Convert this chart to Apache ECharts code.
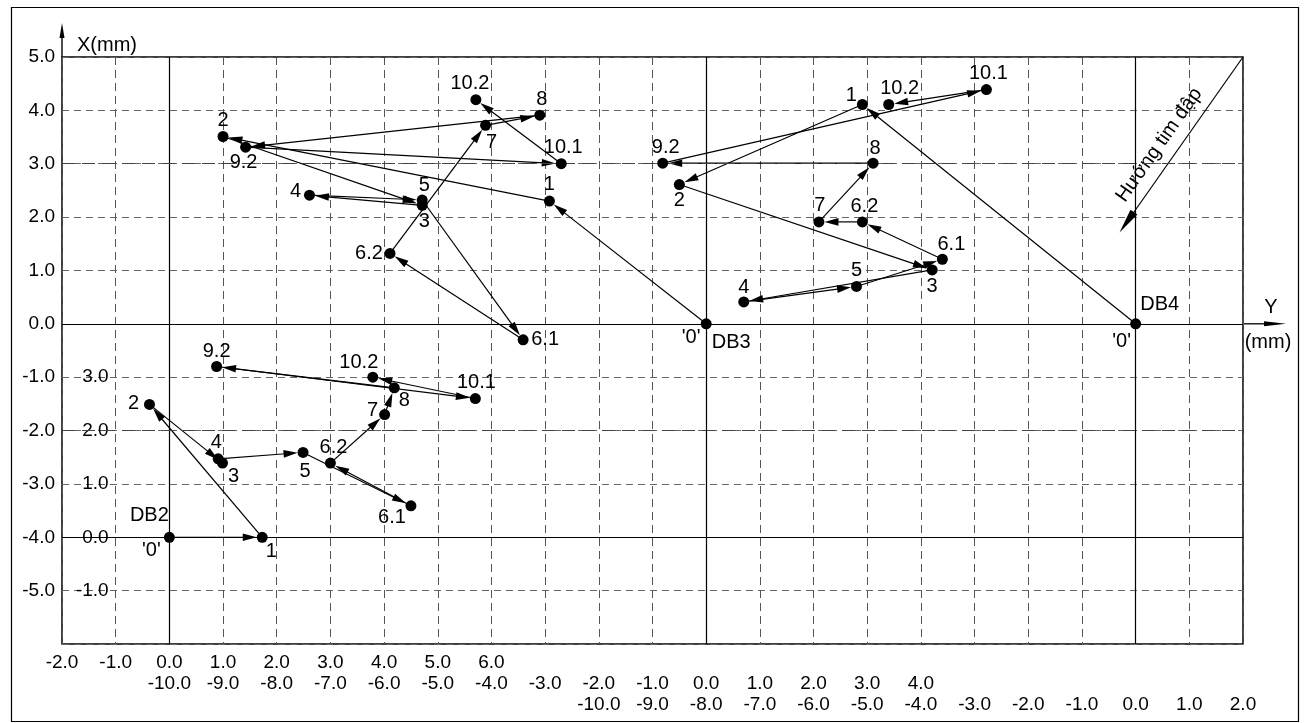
<!DOCTYPE html>
<html>
<head>
<meta charset="utf-8">
<script src="https://cdn.jsdelivr.net/npm/echarts@6/dist/echarts.min.js"></script>
<style>
  html, body { margin: 0; padding: 0; background: #fff; }
  #chart { width: 1307px; height: 723px; }
</style>
</head>
<body>
<div id="chart"></div>
<script>
// Measurement steps, in order of observation
const steps = ['1', '2', '3', '4', '5', '6.1', '6.2', '7', '8', '9.2', '10.1', '10.2'];

// DB2 displacement (mm): horizontal Y and vertical X, relative to its '0'
const db2Y = [1.73, -0.37, 0.99, 0.91, 2.49, 4.50, 3.00, 4.01, 4.19, 0.88, 5.70, 3.79];
const db2X = [0.00, 2.49, 1.39, 1.47, 1.59, 0.59, 1.39, 2.30, 2.80, 3.20, 2.60, 3.00];

// DB3 displacement (mm)
const db3Y = [-2.92, -9.00, -5.29, -7.39, -5.29, -3.41, -5.89, -4.11, -3.10, -8.58, -2.70, -4.29];
const db3X = [2.30, 3.51, 2.22, 2.41, 2.32, -0.30, 1.32, 3.72, 3.91, 3.31, 3.00, 4.20];

// DB4 displacement (mm)
const db4Y = [-5.09, -8.50, -3.79, -7.30, -5.20, -3.60, -5.09, -5.90, -4.89, -8.81, -2.78, -4.60];
const db4X = [4.11, 2.61, 1.01, 0.41, 0.70, 1.21, 1.91, 1.91, 3.01, 3.01, 4.39, 4.11];

// Tick labels printed on each scale
const yTicksDB2 = [-2, -1, 0, 1, 2, 3, 4, 5, 6];
const yTicksDB3 = [-10, -9, -8, -7, -6, -5, -4, -3, -2, -1, 0, 1, 2, 3, 4];
const yTicksDB4 = [-10, -9, -8, -7, -6, -5, -4, -3, -2, -1, 0, 1, 2];
const xTicksMain = [-5, -4, -3, -2, -1, 0, 1, 2, 3, 4, 5];
const xTicksDB2 = [-1, 0, 1, 2, 3];

// Direction toward the dam axis, in DB4 coordinates (mm)
const towardFrom = [2.0, 5.0];
const towardTo = [-0.30, 1.71];
const towardText = 'Hướng tim đập';

// Label placement (offset of the text centre from its dot, px)
const db2LabelOffset = [[9, 14], [-16, -1], [11, 13], [-2, -16], [2, 19], [-19, 12], [3, -16], [-12, -4], [10, 13], [0, -15], [1, -16], [-14, -15]];
const db3LabelOffset = [[0, -17], [0, -16], [2, 16], [-14, -4], [2, -15], [22, 0], [-21, 0], [6, 17], [2, -16], [-2, 15], [2, -16], [-6, -16]];
const db4LabelOffset = [[-11, -9], [0, 16], [0, 17], [0, -14], [0, -16], [9, -15], [2, -15], [1, -16], [2, -15], [3, -16], [2, -16], [11, -16]];

const FONT = "'Liberation Sans', Arial, sans-serif";
const FS = 20;
const TICK_FS = 19;
const DOT = 11;

const GRID = { left: 62, top: 57, width: 1181, height: 587 };
const unitX = GRID.width / 22;
const unitY = GRID.height / 11;

function fmt(list) {
  return function (v) {
    const r = Math.round(v);
    return Math.abs(v - r) < 1e-6 && list.indexOf(r) >= 0 ? v.toFixed(1) : '';
  };
}

function chain(ys, xs) {
  const pts = [[0, 0]].concat(ys.map(function (y, i) { return [y, xs[i]]; }));
  const segs = [];
  for (let i = 1; i < pts.length; i++) {
    segs.push([pts[i - 1][0], pts[i - 1][1], pts[i][0], pts[i][1]]);
  }
  return segs;
}

function points(ys, xs, offsets, zeroOffset) {
  const data = ys.map(function (y, i) {
    return { value: [y, xs[i]], name: steps[i], label: { offset: offsets[i] } };
  });
  data.unshift({ value: [0, 0], name: "'0'", label: { offset: zeroOffset } });
  return data;
}

// Line with a filled head that stops at the edge of the target dot
function arrowRenderer(headLen, headHalf, gap, width, text) {
  return function (params, api) {
    const a = api.coord([api.value(0), api.value(1)]);
    const b = api.coord([api.value(2), api.value(3)]);
    const dx = b[0] - a[0], dy = b[1] - a[1];
    const len = Math.hypot(dx, dy) || 1;
    const ux = dx / len, uy = dy / len;
    const children = [];
    if (len < gap + headLen * 0.8) {
      children.push({ type: 'line', shape: { x1: a[0], y1: a[1], x2: b[0], y2: b[1] }, style: { stroke: '#000', lineWidth: width } });
      return { type: 'group', children: children };
    }
    const tx = b[0] - ux * gap, ty = b[1] - uy * gap;
    const bx = tx - ux * headLen, by = ty - uy * headLen;
    const nx = -uy, ny = ux;
    children.push({ type: 'line', shape: { x1: a[0], y1: a[1], x2: bx + ux * 2, y2: by + uy * 2 }, style: { stroke: '#000', lineWidth: width } });
    children.push({ type: 'polygon', shape: { points: [[tx, ty], [bx + nx * headHalf, by + ny * headHalf], [bx - nx * headHalf, by - ny * headHalf]] }, style: { fill: '#000' } });
    if (text) {
      // caption laid along the arrow, on its upper-left side
      const t = 0.44;
      const px = b[0] + (a[0] - b[0]) * t, py = b[1] + (a[1] - b[1]) * t;
      const ang = Math.atan2(-(a[1] - b[1]), a[0] - b[0]);
      const ox = -Math.sin(ang), oy = -Math.cos(ang);
      children.push({
        type: 'text', x: px + ox * 18, y: py + oy * 18, rotation: ang,
        style: { text: text, font: FS + 'px ' + FONT, fill: '#000', align: 'center', verticalAlign: 'middle' }
      });
    }
    return { type: 'group', children: children };
  };
}

function arrowSeries(ys, xs, xi, yi) {
  return {
    type: 'custom', xAxisIndex: xi, yAxisIndex: yi, clip: false, silent: true, z: 3,
    encode: { x: [0, 2], y: [1, 3] },
    data: chain(ys, xs),
    renderItem: arrowRenderer(14, 3.8, DOT / 2, 1.2)
  };
}

function dotSeries(ys, xs, offsets, zeroOffset, xi, yi, marks) {
  return {
    type: 'scatter', xAxisIndex: xi, yAxisIndex: yi, silent: true, z: 5,
    symbol: 'circle', symbolSize: DOT,
    itemStyle: { color: '#000', opacity: 1 },
    label: { show: true, position: 'inside', formatter: '{b}', color: '#000', fontSize: FS, fontFamily: FONT },
    data: points(ys, xs, offsets, zeroOffset),
    markLine: marks ? {
      silent: true, symbol: 'none', label: { show: false }, animation: false,
      data: marks
    } : undefined
  };
}

// Station name written beside its '0' (the 1px marker hides under the origin dot)
function stationName(name, offset, xi, yi) {
  return {
    type: 'scatter', xAxisIndex: xi, yAxisIndex: yi, silent: true, z: 4,
    symbol: 'circle', symbolSize: 1, itemStyle: { color: '#000', opacity: 1 },
    label: { show: true, position: 'inside', formatter: '{b}', offset: offset, color: '#000', opacity: 1, fontSize: FS, fontFamily: FONT },
    data: [{ value: [0, 0], name: name }]
  };
}

const solid = { color: '#000', width: 1.2, type: 'solid' };
const longDash = { color: '#444', width: 1.2, type: [13, 7] };

const labelStyle = { color: '#000', fontSize: TICK_FS, fontFamily: FONT };

const chart = echarts.init(document.getElementById('chart'), null, { renderer: 'canvas' });

const option = {
  animation: false,
  backgroundColor: '#fff',
  grid: Object.assign({ show: true, borderColor: '#000', borderWidth: 1.5, backgroundColor: 'transparent', outerBoundsMode: 'none' }, GRID),
  xAxis: [
    {
      type: 'value', min: -2, max: 20, interval: 1, position: 'bottom',
      axisLine: { show: false }, axisTick: { show: false },
      axisLabel: Object.assign({ margin: 9, formatter: fmt(yTicksDB2), showMinLabel: true, showMaxLabel: true }, labelStyle),
      splitLine: { show: true, lineStyle: { color: '#555', width: 1, type: [8, 5] } }
    },
    {
      type: 'value', min: -12, max: 10, interval: 1, position: 'bottom', offset: 21,
      axisLine: { show: false }, axisTick: { show: false },
      axisLabel: Object.assign({ margin: 9, formatter: fmt(yTicksDB3) }, labelStyle),
      splitLine: { show: false }
    },
    {
      type: 'value', min: -20, max: 2, interval: 1, position: 'bottom', offset: 42,
      axisLine: { show: false }, axisTick: { show: false },
      axisLabel: Object.assign({ margin: 9, formatter: fmt(yTicksDB4) }, labelStyle),
      splitLine: { show: false }
    }
  ],
  yAxis: [
    {
      type: 'value', min: -6, max: 5, interval: 1, position: 'left',
      axisLine: { show: false }, axisTick: { show: false },
      axisLabel: Object.assign({ margin: 7, formatter: fmt(xTicksMain) }, labelStyle),
      splitLine: { show: true, lineStyle: { color: '#666', width: 1, type: [7, 5] } }
    },
    {
      type: 'value', min: -2, max: 9, interval: 1, position: 'left', offset: -unitX,
      axisLine: { show: false }, axisTick: { show: false },
      axisLabel: Object.assign({ margin: 7, formatter: fmt(xTicksDB2) }, labelStyle),
      splitLine: { show: false }
    }
  ],
  series: [
    // DB2: local frame on the lower-left
    arrowSeries(db2Y, db2X, 0, 1),
    dotSeries(db2Y, db2X, db2LabelOffset, [-18, 13], 0, 1, [
      { xAxis: 0, lineStyle: solid }, { yAxis: 0, lineStyle: solid }, { yAxis: 2, lineStyle: longDash }
    ]),
    stationName('DB2', [-20, -22], 0, 1),
    // DB3
    arrowSeries(db3Y, db3X, 1, 0),
    dotSeries(db3Y, db3X, db3LabelOffset, [-15, 14], 1, 0, [
      { xAxis: 0, lineStyle: solid }, { yAxis: 0, lineStyle: solid }, { yAxis: 3, lineStyle: longDash }
    ]),
    stationName('DB3', [25, 19], 1, 0),
    // DB4
    arrowSeries(db4Y, db4X, 2, 0),
    dotSeries(db4Y, db4X, db4LabelOffset, [-14, 18], 2, 0, [
      { xAxis: 0, lineStyle: solid }
    ]),
    stationName('DB4', [24, -19], 2, 0),
    // direction arrow with its caption
    {
      type: 'custom', xAxisIndex: 2, yAxisIndex: 0, clip: false, silent: true, z: 4,
      encode: { x: [0, 2], y: [1, 3] },
      data: [[towardFrom[0], towardFrom[1], towardTo[0], towardTo[1]]],
      renderItem: arrowRenderer(25, 4.2, 0, 1.2, towardText)
    }
  ],
  graphic: [
    // outer frame
    { type: 'rect', left: 9, top: 5, shape: { width: 1287, height: 714 }, style: { fill: 'none', stroke: '#000', lineWidth: 1.2 }, silent: true },
    // vertical axis arrow
    { type: 'line', shape: { x1: GRID.left, y1: GRID.top, x2: GRID.left, y2: 30 }, style: { stroke: '#000', lineWidth: 1.4 }, silent: true },
    { type: 'polygon', shape: { points: [[GRID.left, 23], [GRID.left - 2.5, 38], [GRID.left + 2.5, 38]] }, style: { fill: '#000' }, silent: true },
    { type: 'text', x: 77, y: 45, style: { text: 'X(mm)', font: FS + 'px ' + FONT, fill: '#000', align: 'left', verticalAlign: 'middle' }, silent: true },
    // horizontal axis arrow
    { type: 'line', shape: { x1: GRID.left + GRID.width, y1: GRID.top + 5 * unitY, x2: 1270, y2: GRID.top + 5 * unitY }, style: { stroke: '#000', lineWidth: 1.3 }, silent: true },
    { type: 'polygon', shape: { points: [[1286, GRID.top + 5 * unitY], [1264, GRID.top + 5 * unitY - 2.5], [1264, GRID.top + 5 * unitY + 2.5]] }, style: { fill: '#000' }, silent: true },
    { type: 'text', x: 1271, y: 307, style: { text: 'Y', font: FS + 'px ' + FONT, fill: '#000', align: 'center', verticalAlign: 'middle' }, silent: true },
    { type: 'text', x: 1268, y: 342, style: { text: '(mm)', font: FS + 'px ' + FONT, fill: '#000', align: 'center', verticalAlign: 'middle' }, silent: true }
  ]
};

chart.setOption(option);
</script>
</body>
</html>
